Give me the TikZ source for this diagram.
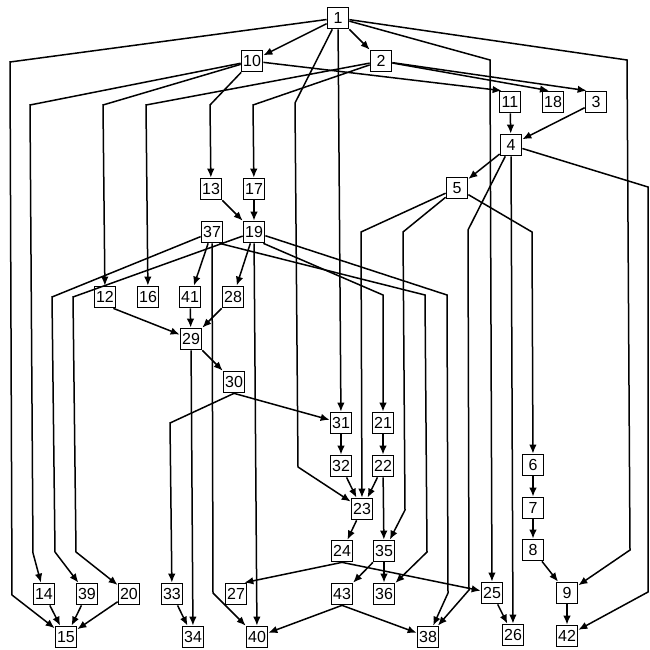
\documentclass[tikz,border=0pt]{standalone}
\usepackage{fontspec}
\setmainfont{Liberation Sans}
\usetikzlibrary{arrows.meta}
\begin{document}
\begin{tikzpicture}[x=1pt,y=-1pt,
  box/.style={draw,line width=1.7pt,minimum width=21pt,minimum height=21pt,
    inner sep=0pt,fill=white,font=\fontsize{16}{16}\selectfont},
  edge/.style={line width=1.5pt,-{Latex[length=9pt,width=7.5pt]}}]
\useasboundingbox (0,0) rectangle (650,650);

% tasks
\node[box] (n1)  at (338,18)  {1};
\node[box] (n10) at (252,61)  {10};
\node[box] (n2)  at (381,61)  {2};
\node[box] (n11) at (510,102) {11};
\node[box] (n18) at (553,102) {18};
\node[box] (n3)  at (596,102) {3};
\node[box] (n4)  at (511,145) {4};
\node[box] (n5)  at (457,188) {5};
\node[box] (n13) at (211,189) {13};
\node[box] (n17) at (254,189) {17};
\node[box] (n37) at (212,232) {37};
\node[box] (n19) at (254,232) {19};
\node[box] (n12) at (105,297) {12};
\node[box] (n16) at (148,297) {16};
\node[box] (n41) at (190,297) {41};
\node[box] (n28) at (233,297) {28};
\node[box] (n29) at (191,339) {29};
\node[box] (n30) at (234,382) {30};
\node[box] (n31) at (341,423) {31};
\node[box] (n21) at (383,423) {21};
\node[box] (n32) at (341,466) {32};
\node[box] (n22) at (383,466) {22};
\node[box] (n23) at (362,509) {23};
\node[box] (n24) at (342,551) {24};
\node[box] (n35) at (384,551) {35};
\node[box] (n6)  at (533,465) {6};
\node[box] (n7)  at (533,508) {7};
\node[box] (n8)  at (533,550) {8};
\node[box] (n14) at (44,594)  {14};
\node[box] (n39) at (87,594)  {39};
\node[box] (n20) at (129,594) {20};
\node[box] (n33) at (172,594) {33};
\node[box] (n27) at (236,594) {27};
\node[box] (n43) at (342,594) {43};
\node[box] (n36) at (384,594) {36};
\node[box] (n25) at (492,593) {25};
\node[box] (n9)  at (567,593) {9};
\node[box] (n15) at (66,637)  {15};
\node[box] (n34) at (193,637) {34};
\node[box] (n40) at (257,637) {40};
\node[box] (n38) at (428,637) {38};
\node[box] (n26) at (513,635) {26};
\node[box] (n42) at (567,636) {42};

% precedence links
\draw[edge] (n1) -- (n10);
\draw[edge] (n1) -- (n2);
\draw[edge] (n1) -- (10,62) -- (12,595) -- (n15);
\draw[edge] (n1) -- (295,103) -- (298,467) -- (n23);
\draw[edge] (n1) -- (n31);
\draw[edge] (n1) -- (490,60) -- (n25);
\draw[edge] (n1) -- (627,60) -- (630,550) -- (n9);

\draw[edge] (n10) -- ([xshift=3pt]n11.north west);
\draw[edge] (n10) -- (30,105) -- (33,553) -- (n14);
\draw[edge] (n10) -- (103,105) -- (n12);
\draw[edge] (n10) -- (210,105) -- (n13);

\draw[edge] (n2) -- (146,105) -- (n16);
\draw[edge] (n2) -- (253,105) -- (n17);
\draw[edge] (n2) -- ([xshift=-4pt]n18.north);
\draw[edge] (n2) -- ([xshift=2pt]n3.north west);

\draw[edge] (n11) -- (n4);
\draw[edge] (n3) -- (n4);
\draw[edge] (n4) -- (n5);
\draw[edge] (n4) -- (468,230) -- (469,590) -- (n38);
\draw[edge] (n4) -- (n26);
\draw[edge] (n4) -- (648,187) -- (648,592) -- (n42);

\draw[edge] (n5) -- (361,232) -- (n23);
\draw[edge] (n5) -- (403,232) -- (405,510) -- (n35);
\draw[edge] (n5) -- (532,232) -- (n6);

\draw[edge] (n13) -- (n19);
\draw[edge] (n17) -- (n19);

\draw[edge] (n19) -- (n28);
\draw[edge] (n19) -- (73,297) -- (76,552) -- (n20);
\draw[edge] (n19) -- (n40);
\draw[edge] ([xshift=-2pt]n19.south east) -- (383,295) -- (n21);
\draw[edge] (n19) -- (447,295) -- (448,593) -- (n38);

\draw[edge] (n37) -- (n41);
\draw[edge] (n37) -- (52,297) -- (55,552) -- (n39);
\draw[edge] (n37) -- (213,593) -- (n40);
\draw[edge] ([xshift=-4pt]n37.south east) -- (425,295) -- (427,552) -- (n36);

\draw[edge] ([xshift=-3pt]n12.south east) -- (n29);
\draw[edge] (n41) -- (n29);
\draw[edge] (n28) -- (n29);
\draw[edge] (n29) -- (n30);
\draw[edge] (n29) -- (n34);

\draw[edge] (n30.south) -- (n31);
\draw[edge] (n30.south) -- (170,423) -- (n33);

\draw[edge] (n31) -- (n32);
\draw[edge] (n21) -- (n22);
\draw[edge] (n32) -- (n23);
\draw[edge] (n22) -- (n23);
\draw[edge] (n22) -- (n35);
\draw[edge] (n23) -- (n24);

\draw[edge] (n24.south) -- ([xshift=-3pt]n27.north east);
\draw[edge] (n24.south) -- (n25);
\draw[edge] (n35) -- (n43);
\draw[edge] (n35) -- (n36);
\draw[edge] (n43.south) -- (n40);
\draw[edge] (n43.south) -- (n38);

\draw[edge] (n6) -- (n7);
\draw[edge] (n7) -- (n8);
\draw[edge] (n8) -- (n9);
\draw[edge] (n9) -- (n42);
\draw[edge] (n25) -- (n26);
\draw[edge] (n33) -- (n34);
\draw[edge] (n14) -- (n15);
\draw[edge] (n39) -- (n15);
\draw[edge] (n20) -- (n15);
\end{tikzpicture}
\end{document}
